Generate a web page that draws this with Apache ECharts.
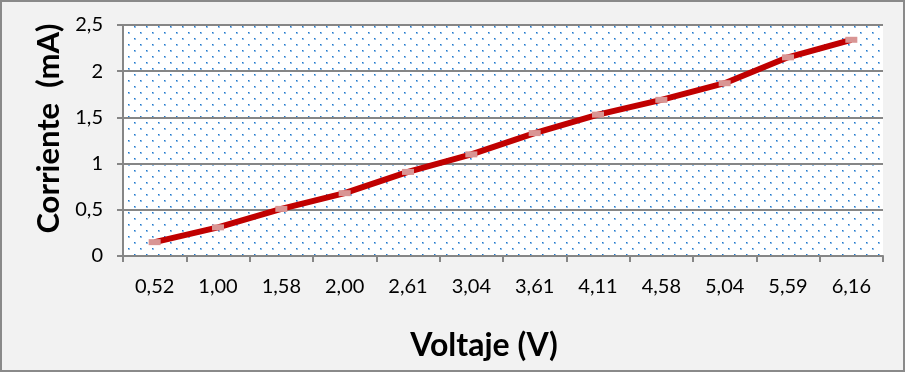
<!DOCTYPE html>
<html><head><meta charset="utf-8">
<script src="https://cdn.jsdelivr.net/npm/echarts@6/dist/echarts.min.js"></script>
<style>html,body{margin:0;padding:0;background:#f2f2f2}#c{width:905px;height:372px;box-sizing:border-box;}</style>
</head><body><div id="c"></div>
<script>
const categories = ['0,52','1,00','1,58','2,00','2,61','3,04','3,61','4,11','4,58','5,04','5,59','6,16'];
const corriente = [0.15,0.31,0.51,0.68,0.91,1.10,1.33,1.53,1.69,1.87,2.15,2.34];
const yTicks = ['0','0,5','1','1,5','2','2,5'];

const pc = document.createElement('canvas');
pc.width = 12; pc.height = 12;
const g = pc.getContext('2d');
g.fillStyle = '#ffffff'; g.fillRect(0,0,12,12);
g.fillStyle = 'rgba(30,120,205,0.5)'; g.fillRect(2,2,2,2); g.fillRect(8,8,2,2);
g.fillStyle = '#1f78cc'; g.fillRect(2,2,1,1); g.fillRect(8,8,1,1);

const chart = echarts.init(document.getElementById('c'));
const FONT = 'Lato';
chart.setOption({
  animation: false,
  backgroundColor: '#f2f2f2',
  graphic: [{type:'rect', shape:{x:1,y:1,width:903,height:370}, style:{fill:'none', stroke:'#8a8a8a', lineWidth:2}, z:-1}],
  grid: {left:123, right:22, top:25, bottom:116, containLabel:false, outerBoundsMode:'none', show:true, backgroundColor:{image:pc, repeat:'repeat'}, borderWidth:0},
  xAxis: {
    type:'category', data:categories, boundaryGap:true,
    name:'Voltaje (V)', nameLocation:'middle', nameGap:74,
    nameTextStyle:{fontFamily:FONT, fontWeight:'bold', fontSize:32, color:'#000', padding:[0,38,0,0]},
    axisLine:{lineStyle:{color:'#868686', width:2}},
    axisTick:{show:true, length:6, alignWithLabel:false, lineStyle:{color:'#868686', width:2}},
    axisLabel:{fontFamily:FONT, fontSize:20, color:'#000', margin:21, interval:0}
  },
  yAxis: {
    type:'value', min:0, max:2.5, interval:0.5,
    name:'Corriente  (mA)', nameLocation:'middle', nameGap:59,
    nameTextStyle:{fontFamily:FONT, fontWeight:'bold', fontSize:31, color:'#000', padding:[0,0,0,24]},
    axisLine:{show:true, lineStyle:{color:'#868686', width:2}},
    axisTick:{show:true, length:6, lineStyle:{color:'#868686', width:2}},
    splitLine:{lineStyle:{color:'#868686', width:2}},
    axisLabel:{fontFamily:FONT, fontSize:20, color:'#000', margin:20,
      formatter: v => yTicks[Math.round(v/0.5)]}
  },
  series: [{
    type:'line', data:corriente,
    lineStyle:{color:'#c00000', width:6},
    symbol:'rect', symbolSize:[12,6], showSymbol:true,
    itemStyle:{color:'#d99594', borderWidth:0},
    z:3
  }]
});
</script></body></html>
